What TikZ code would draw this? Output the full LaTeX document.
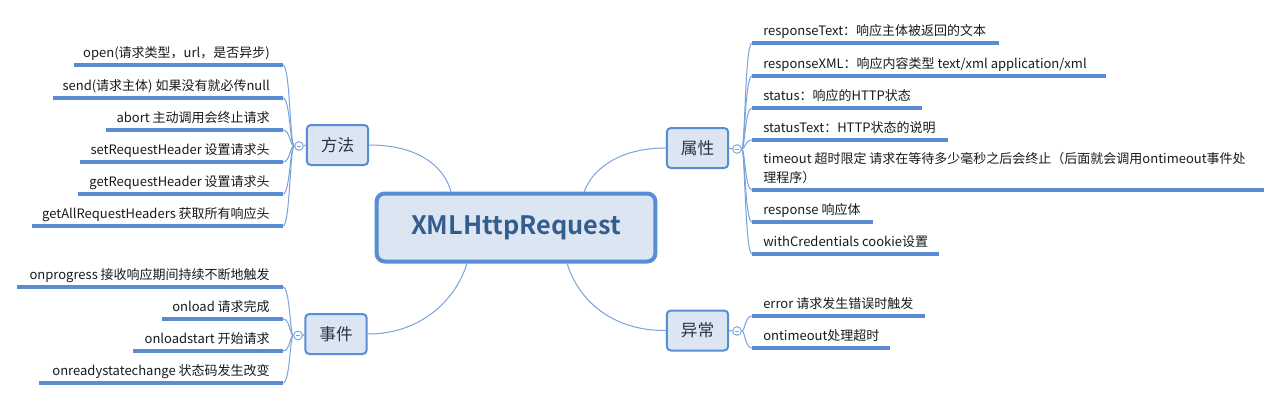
\documentclass[tikz,border=0pt]{standalone}
\usepackage{fontspec}
\setmainfont{Noto Sans CJK SC}[BoldFont={Noto Sans CJK SC Bold}]
\definecolor{bblue}{HTML}{578DD5}
\definecolor{bfill}{HTML}{DCE6F2}
\definecolor{ublue}{HTML}{5A8CD4}
\definecolor{cblue}{HTML}{79A3DC}
\definecolor{ttext}{HTML}{345D8D}
\definecolor{btext}{HTML}{253545}
\definecolor{itext}{HTML}{1A1A1A}
\tikzset{
  central/.style={draw=bblue, line width=3pt, fill=bfill, rounded corners=6pt,
    minimum width=209pt, minimum height=51pt, inner sep=0pt,
    font=\bfseries\fontsize{19}{21}\selectfont, text=ttext},
  branch/.style={draw=bblue, line width=1.5pt, fill=bfill, rounded corners=3pt,
    minimum width=46pt, minimum height=30pt, inner sep=0pt,
    font=\fontsize{12.5}{14}\selectfont, text=btext},
  knob/.style={circle, draw=cblue, line width=0.7pt, fill=white, minimum size=6.5pt, inner sep=0pt},
  uline/.style={draw=ublue, line width=2.3pt},
  conn/.style={draw=cblue, line width=0.75pt},
  ltext/.style={anchor=base east, inner sep=0pt, font=\fontsize{9.75}{14}\selectfont, text=itext},
  rtext/.style={anchor=base west, inner sep=0pt, font=\fontsize{9.75}{14}\selectfont, text=itext},
}
\begin{document}
\begin{tikzpicture}[x=0.75pt, y=-0.75pt]
\useasboundingbox[fill=white] (0,0) rectangle (1281,400);

% central
\node[central] (xhr) at (516,227.5) {XMLHttpRequest};

% branches
\node[branch] (ff) at (337.5,145) {方法};
\node[branch] (sj) at (336,334) {事件};
\node[branch] (sx) at (697.5,148) {属性};
\node[branch] (yc) at (697.5,330.5) {异常};

% knobs
\node[knob] (ffk) at (299,146) {};
\node[knob] (sjk) at (298,335.5) {};
\node[knob] (sxk) at (737,149) {};
\node[knob] (yck) at (737,331) {};
\foreach \k in {ffk,sjk,sxk,yck}{
  \draw[cblue, line width=0.7pt] ([xshift=-1.6pt]\k.center) -- ([xshift=1.6pt]\k.center);
}
\draw[conn] (ff.west) -- (ffk.east);
\draw[conn] (sj.west) -- (sjk.east);
\draw[conn] (sx.east) -- (sxk.west);
\draw[conn] (yc.east) -- (yck.west);

% central connectors
\coordinate (cff) at (451,192);
\coordinate (csj) at (467,263);
\coordinate (csx) at (584,192);
\coordinate (cyc) at (567,263);
\draw[conn] (ff.east) .. controls (420,145) and (445,168) .. (cff);
\draw[conn] (sj.east) .. controls (425,334) and (458,295) .. (csj);
\draw[conn] (sx.west) .. controls (618,148) and (592,170) .. (csx);
\draw[conn] (yc.west) .. controls (612,331) and (578,300) .. (cyc);

% ---- 方法 items
\foreach \n/\xl/\y/\t in {
  m1/74/65/{open(请求类型，url，是否异步)},
  m2/53/98/{send(请求主体) 如果没有就必传null},
  m3/106/130/{abort 主动调用会终止请求},
  m4/80/162/{setRequestHeader 设置请求头},
  m5/78/194/{getRequestHeader 设置请求头},
  m6/32/226/{getAllRequestHeaders 获取所有响应头}}{
  \coordinate (\n a) at (\xl,\y);
  \coordinate (\n b) at (283,\y);
  \draw[uline] (\n a) -- (\n b);
  \node[ltext] (\n) at (270,\y-8) {\t};
  \draw[conn] (\n b) .. controls (290,\y) and (290,146) .. (ffk.west);
}

% ---- 事件 items
\foreach \n/\xl/\y/\t in {
  e1/17/287/{onprogress 接收响应期间持续不断地触发},
  e2/162/319/{onload 请求完成},
  e3/133/351/{onloadstart 开始请求},
  e4/39/383/{onreadystatechange 状态码发生改变}}{
  \coordinate (\n a) at (\xl,\y);
  \coordinate (\n b) at (283,\y);
  \draw[uline] (\n a) -- (\n b);
  \node[ltext] (\n) at (270,\y-8) {\t};
  \draw[conn] (\n b) .. controls (290,\y) and (290,335.5) .. (sjk.west);
}

% ---- 属性 items
\foreach \n/\xr/\y/\t in {
  p1/999/43/{responseText：响应主体被返回的文本},
  p2/1106/76/{responseXML：响应内容类型 text/xml application/xml},
  p3/922/108/{status：响应的HTTP状态},
  p4/948/140/{statusText：HTTP状态的说明},
  p6/873/222/{response 响应体},
  p7/939/254/{withCredentials cookie设置}}{
  \coordinate (\n a) at (752,\y);
  \coordinate (\n b) at (\xr,\y);
  \draw[uline] (\n a) -- (\n b);
  \node[rtext] (\n) at (763,\y-8) {\t};
  \draw[conn] (\n a) .. controls (745,\y) and (745,149) .. (sxk.east);
}
\coordinate (p5a) at (752,190);
\coordinate (p5b) at (1264,190);
\draw[uline] (p5a) -- (p5b);
\node[rtext, align=left] (p5) at (763,182) {timeout 超时限定 请求在等待多少毫秒之后会终止（后面就会调用ontimeout事件处\\理程序）};
\draw[conn] (p5a) .. controls (745,190) and (745,149) .. (sxk.east);

% ---- 异常 items
\foreach \n/\xr/\y/\t in {
  x1/925/316/{error 请求发生错误时触发},
  x2/890/348/{ontimeout处理超时}}{
  \coordinate (\n a) at (752,\y);
  \coordinate (\n b) at (\xr,\y);
  \draw[uline] (\n a) -- (\n b);
  \node[rtext] (\n) at (763,\y-8) {\t};
  \draw[conn] (\n a) .. controls (745,\y) and (745,331) .. (yck.east);
}
\end{tikzpicture}
\end{document}
